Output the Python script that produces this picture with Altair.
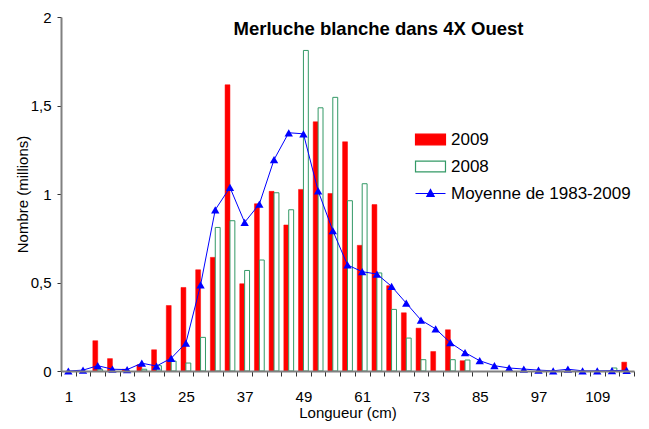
import altair as alt
import pandas as pd

lengths = [1, 4, 7, 10, 13, 16, 19, 22, 25, 28, 31, 34, 37, 40, 43, 46, 49, 52, 55, 58,
           61, 64, 67, 70, 73, 76, 79, 82, 85, 88, 91, 94, 97, 100, 103, 106, 109, 112, 115]

y2009 = [0, 0, 0.171, 0.07, 0.01, 0.035, 0.12, 0.37, 0.472, 0.572, 0.642, 1.617, 0.493,
         0.945, 1.015, 0.825, 1.026, 1.408, 1.003, 1.295, 0.71, 0.94, 0.482, 0.329, 0.242,
         0.11, 0.233, 0.058, 0, 0, 0, 0, 0, 0, 0, 0, 0, 0, 0.05]

y2008 = [0, 0, 0.01, 0, 0, 0.01, 0.03, 0.056, 0.045, 0.19, 0.811, 0.849, 0.568,
         0.627, 1.007, 0.911, 1.811, 1.487, 1.546, 0.962, 1.058, 0.554, 0.348, 0.186, 0.064,
         0, 0.064, 0.062, 0, 0, 0, 0, 0, 0, 0, 0, 0, 0.017, 0]

mean8309 = [0, 0.005, 0.03, 0.01, 0.008, 0.044, 0.028, 0.072, 0.158, 0.486, 0.911, 1.037, 0.84,
            0.943, 1.194, 1.346, 1.34, 1.018, 0.793, 0.599, 0.561, 0.548, 0.478, 0.383, 0.288,
            0.238, 0.16, 0.104, 0.058, 0.03, 0.017, 0.011, 0.005, 0.001, 0.01, 0.001, 0.001,
            0.002, 0.004]

SERIES = ["2009", "2008", "Moyenne de 1983-2009"]
n = len(lengths)

red_df = pd.DataFrame({"L": lengths, "v": y2009, "s": [SERIES[0]] * n})
green_df = pd.DataFrame({"L": lengths, "v": y2008, "s": [SERIES[1]] * n})
mean_df = pd.DataFrame({"L": lengths, "v": mean8309, "s": [SERIES[2]] * n})

FONT = "Liberation Sans"

x = alt.X(
    "L:O",
    sort="ascending",
    scale=alt.Scale(paddingInner=0, paddingOuter=0),
    title="Longueur (cm)",
    axis=alt.Axis(
        labelExpr="(datum.value - 1) % 12 == 0 ? datum.label : ''",
        labelAngle=0,
        labelOverlap=False,
        tickBand="extent",
        tickSize=5,
        tickColor="#333333",
        domainColor="#808080",
        domainWidth=2,
        labelFontSize=15,
        labelPadding=13,
        titleFontSize=15,
        titleFontWeight="normal",
        titlePadding=1,
        zindex=1,
    ),
)
y = alt.Y(
    "v:Q",
    scale=alt.Scale(domain=[0, 2]),
    title="Nombre (millions)",
    axis=alt.Axis(
        values=[0, 0.5, 1, 1.5, 2],
        labelExpr="replace(toString(datum.value), '.', ',')",
        grid=False,
        tickSize=4,
        tickColor="#333333",
        domainColor="#808080",
        domainWidth=2,
        labelFontSize=15,
        labelPadding=6,
        titleFontSize=15,
        titleFontWeight="normal",
        titlePadding=0,
        zindex=1,
    ),
)

xoff = alt.XOffset("s:N", scale=alt.Scale(domain=SERIES[:2], paddingOuter=0.5, paddingInner=0))

red_bars = alt.Chart(red_df).transform_filter("datum.v > 0").mark_bar(
    fill="#ff0000", stroke="#ff0000", strokeWidth=0.5
).encode(x=x, y=y, xOffset=xoff)

green_bars = alt.Chart(green_df).transform_filter("datum.v > 0").mark_bar(
    fill="#ffffff", stroke="#339966", strokeWidth=1
).encode(x=x, y=y, xOffset=xoff)

line = alt.Chart(mean_df).mark_line(strokeWidth=1, color="#0000ff").encode(x=x, y=y)

pts = alt.Chart(mean_df).mark_point(
    filled=True, size=70, shape="triangle-up", color="#0000ff", opacity=1
).encode(x=x, y=y)

fill_scale = alt.Scale(domain=SERIES, range=["#ff0000", "#ffffff", "#0000ff"])
stroke_scale = alt.Scale(domain=SERIES, range=["#ff0000", "#339966", "#0000ff"])
rect_path = "M-1.11,-0.4H1.11V0.4H-1.11Z"
line_tri_path = "M-1.11,0H1.11M0,-0.3L0.27,0.22L-0.27,0.22Z"
shape_scale = alt.Scale(domain=SERIES, range=[rect_path, rect_path, line_tri_path])

leg = alt.Legend(title=None)
legend_layer = alt.Chart(mean_df).transform_filter("false").mark_point(
    filled=True, opacity=1, strokeWidth=1
).encode(
    x=x,
    y=y,
    fill=alt.Fill("s:N", scale=fill_scale, legend=leg),
    stroke=alt.Stroke("s:N", scale=stroke_scale, legend=leg),
    shape=alt.Shape("s:N", scale=shape_scale, legend=leg),
)

chart = alt.layer(red_bars, green_bars, line, pts, legend_layer).properties(
    width=573,
    height=354,
    title=alt.TitleParams(
        "Merluche blanche dans 4X Ouest",
        fontSize=18.5,
        fontWeight="bold",
        font=FONT,
        anchor="middle",
        dx=31,
        offset=-28,
        color="black",
    ),
    autosize=alt.AutoSizeParams(type="none"),
    padding={"left": 53, "top": 9, "right": 7, "bottom": 50},
).configure_view(stroke=None).configure_axis(
    labelFont=FONT, titleFont=FONT, labelColor="black", titleColor="black"
).configure_legend(
    orient="none",
    legendX=355,
    legendY=108,
    padding=0,
    symbolSize=729,
    symbolStrokeWidth=1.2,
    labelFont=FONT,
    labelFontSize=17,
    labelColor="black",
    labelOffset=6,
    labelLimit=0,
    rowPadding=4,
)

chart.save("out.html", embed_options={"renderer": "svg", "actions": False})
